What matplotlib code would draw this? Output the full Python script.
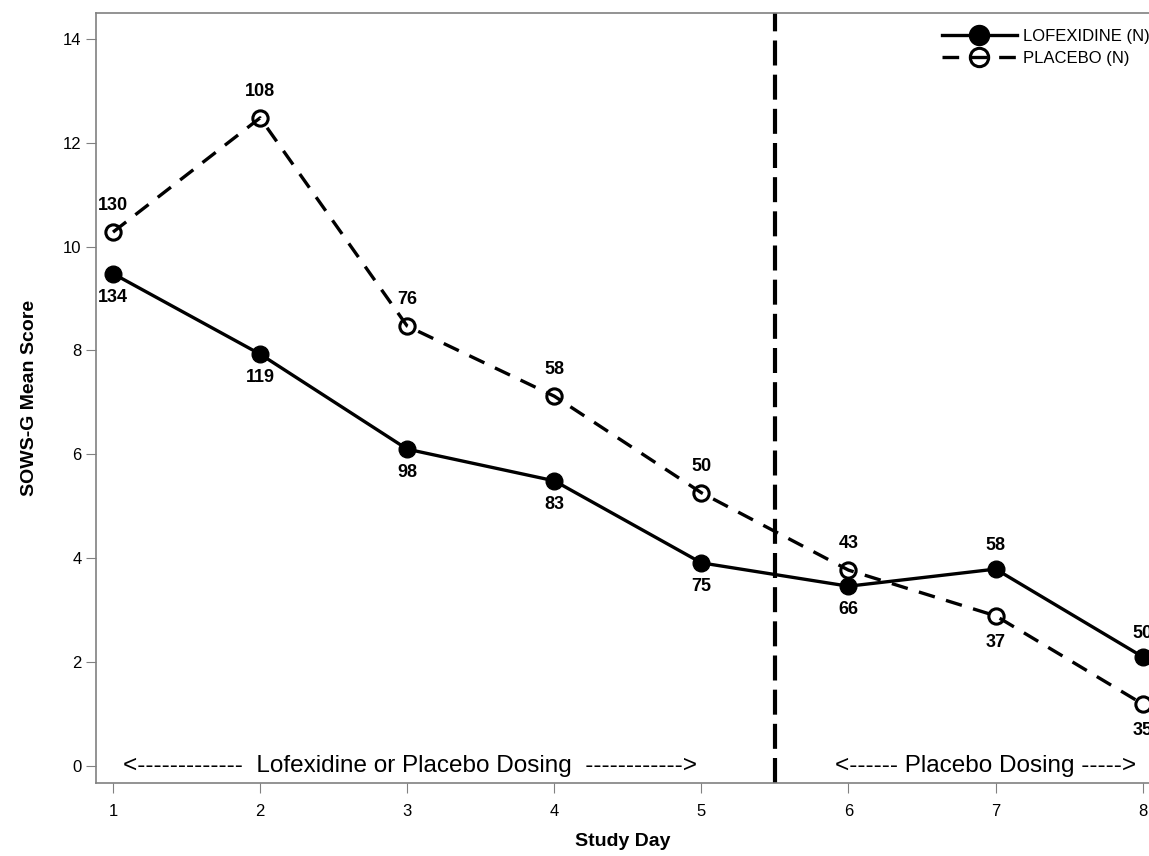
import matplotlib
matplotlib.use("Agg")
import matplotlib.pyplot as plt

plt.rcParams['font.family'] = ['Liberation Sans', 'DejaVu Sans']

# Study days and SOWS-G mean scores
days = [1, 2, 3, 4, 5, 6, 7, 8]
lofexidine = [9.48, 7.93, 6.10, 5.49, 3.91, 3.46, 3.79, 2.10]
placebo = [10.28, 12.48, 8.47, 7.12, 5.26, 3.77, 2.89, 1.19]

# number of subjects per day
lofex_n = [134, 119, 98, 83, 75, 66, 58, 50]
placebo_n = [130, 108, 76, 58, 50, 43, 37, 35]

# label above (+1) or below (-1) the marker
lofex_side = [-1, -1, -1, -1, -1, -1, 1, 1]
placebo_side = [1, 1, 1, 1, 1, 1, -1, -1]

fig = plt.figure(figsize=(11.49, 8.56), dpi=100)
ax = fig.add_axes([96 / 1149, 73 / 856, (1149 - 96) / 1149, 770 / 856])

ax.plot(days, lofexidine, color='black', linewidth=2.4, marker='o',
        markersize=12, markerfacecolor='black', label='LOFEXIDINE (N)',
        clip_on=False, zorder=3)
ax.plot(days, placebo, color='black', linewidth=2.4, linestyle=(0, (5, 3.5)),
        marker='o', markersize=11, markerfacecolor='none', markeredgewidth=2.2,
        label='PLACEBO (N)', clip_on=False, zorder=3)

for x, y, n, s in zip(days, lofexidine, lofex_n, lofex_side):
    ax.annotate(str(n), (x, y), xytext=(0, 17 * s), textcoords='offset points',
                ha='center', va='center', fontsize=13, fontweight='bold',
                annotation_clip=False)
for x, y, n, s in zip(days, placebo, placebo_n, placebo_side):
    ax.annotate(str(n), (x, y), xytext=(0, 19 * s), textcoords='offset points',
                ha='center', va='center', fontsize=13, fontweight='bold',
                annotation_clip=False)

ax.axvline(5.5, color='black', linewidth=3, linestyle=(0, (6, 2.2)), zorder=2)

ax.text(3.02, 0, '<-------------  Lofexidine or Placebo Dosing  ------------>',
        ha='center', va='center', fontsize=17.5)
ax.text(6.93, 0, '<------ Placebo Dosing ----->', ha='center', va='center',
        fontsize=17.5)

ax.set_xlim(1 - 17 / 147.1, 1 + (1149 - 113) / 147.1)
ax.set_ylim(-0.33, 14.5)
ax.set_xticks(days)
ax.set_yticks(range(0, 15, 2))
ax.tick_params(colors='#808080', labelcolor='black', labelsize=12,
               length=7, direction='out')
ax.tick_params(axis='x', pad=8)

for side in ['left', 'bottom', 'top']:
    ax.spines[side].set_color('#808080')
    ax.spines[side].set_linewidth(1.2)
ax.spines['right'].set_visible(False)

ax.set_xlabel('Study Day', fontsize=14, fontweight='bold', labelpad=10)
ax.set_ylabel('SOWS-G Mean Score', fontsize=14, fontweight='bold', labelpad=18)

ax.legend(loc='upper right', bbox_to_anchor=(1.012, 0.995), frameon=False,
          fontsize=12, handlelength=4.5, handletextpad=0.4, borderaxespad=0.3,
          labelspacing=0.45, markerscale=1.2)

fig.savefig('out.png', dpi=100)
